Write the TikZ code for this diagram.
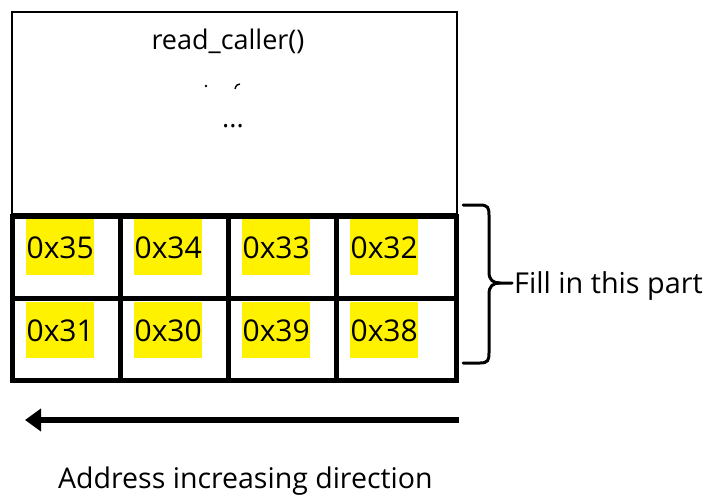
\documentclass[tikz,border=0pt]{standalone}
\usepackage{fontspec}
\setmainfont{Open Sans}
\usetikzlibrary{arrows.meta}
\begin{document}
\begin{tikzpicture}[x=1pt,y=-1pt,
  thin frame/.style={draw=black,line width=2pt},
  thick grid/.style={draw=black,line width=5pt},
  hexbox/.style={fill=yellow,inner sep=0pt,minimum width=68pt,minimum height=56pt,anchor=north west,font=\fontsize{30}{31}\selectfont,text depth=0pt},
  lbl/.style={inner sep=0pt,font=\fontsize{27}{30}\selectfont}]
\useasboundingbox (0,0) rectangle (712,500);
\fill[white] (0,0) rectangle (712,500);
% upper frame
\draw[thin frame] (12,12) rectangle (457,214);
\node[lbl,anchor=base] (title) at (228,50) {read\_caller()};
\fill (206,86) circle (1.3pt);
\draw[line width=1.4pt] (235,89) .. controls (236,85) and (238,84) .. (240,84);
\node[lbl,anchor=base] (dots) at (233,128) {...};
% yellow cells
\foreach \lab/\x/\y/\n in {0x35/26/219/a1,0x34/134/219/a2,0x33/242/219/a3,0x32/350/219/a4,
                           0x31/26/302/b1,0x30/134/302/b2,0x39/242/302/b3,0x38/350/302/b4}{
  \node[hexbox] (\n) at (\x,\y) {\lab};
}
% grid
\draw[thick grid] (12,216) rectangle (456,380);
\draw[thick grid] (12,298) -- (456,298);
\foreach \xx in {120,228,336} \draw[thick grid] (\xx,216) -- (\xx,380);
% brace
\draw[line width=3pt,line cap=round]
  (463,205) -- (480,205) .. controls (488,205) and (489,208) .. (489,215)
  -- (489,272) .. controls (489,280) and (493,283) .. (500,283) -- (512,283);
\draw[line width=3pt,line cap=round]
  (463,363) -- (480,363) .. controls (488,363) and (489,360) .. (489,353)
  -- (489,294) .. controls (489,286) and (493,283) .. (500,283);
\node[lbl,anchor=west,font=\fontsize{28.8}{30}\selectfont] (fill) at (514,286) {Fill in this part};
% arrow
\coordinate (as) at (459,420);
\coordinate (ae) at (25,420);
\draw[line width=5.5pt,-{Triangle[length=16pt,width=22pt]}] (as) -- (ae);
\node[lbl,anchor=base west,font=\fontsize{28.5}{30}\selectfont] (addr) at (58,488) {Address increasing direction};
\end{tikzpicture}
\end{document}
